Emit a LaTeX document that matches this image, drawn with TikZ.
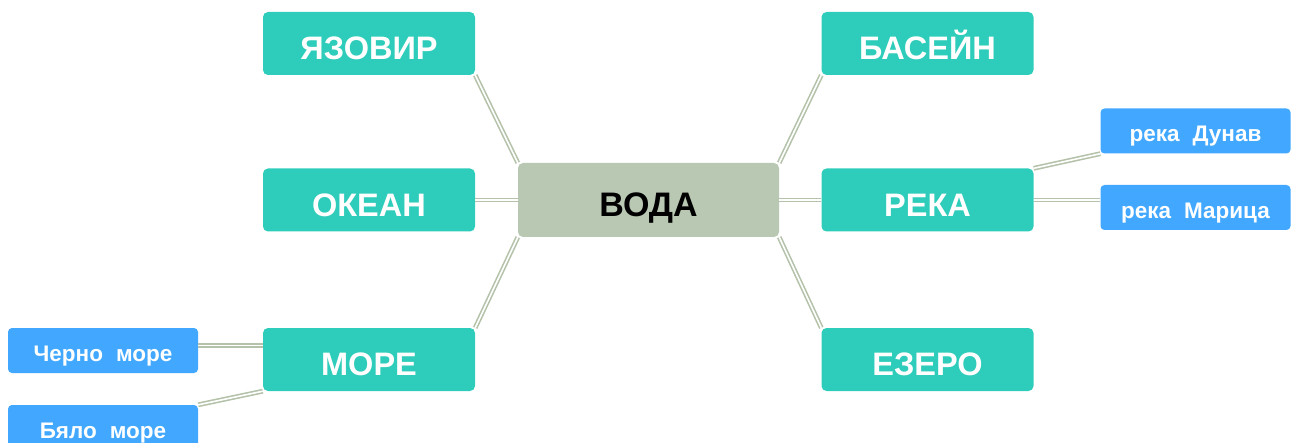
\documentclass[tikz,border=0pt]{standalone}
\usepackage{fontspec}
\setmainfont{Liberation Sans}
\usetikzlibrary{positioning}
\definecolor{tealbox}{RGB}{46,204,186}
\definecolor{bluebox}{RGB}{66,168,255}
\definecolor{sagebox}{RGB}{185,200,179}
\definecolor{linkcol}{RGB}{180,194,170}
\newcommand{\leaffont}{\bfseries\fontsize{22.5}{22.5}\selectfont\spaceskip=13pt\relax}
\tikzset{
  topic/.style={rectangle, rounded corners=5pt, fill=tealbox, text=white, font=\bfseries\fontsize{32.5}{32.5}\selectfont, minimum width=212pt, minimum height=63pt, inner sep=0pt, text height=32.5pt, text depth=0pt},
  leaf/.style={rectangle, rounded corners=4pt, fill=bluebox, text=white, font=\leaffont, minimum width=190pt, minimum height=45pt, inner sep=0pt, text height=22pt, text depth=0pt},
  hub/.style={rectangle, rounded corners=5pt, fill=sagebox, text=black, font=\bfseries\fontsize{34}{34}\selectfont, minimum width=261pt, minimum height=74pt, inner sep=0pt, text height=32.5pt, text depth=0pt},
  link/.style={draw=linkcol, double=white, double distance=1.6pt, line width=1.6pt}
}
\begin{document}
\begin{tikzpicture}[x=1pt, y=-1pt]
\useasboundingbox (0,0) rectangle (1292,443);
\coordinate (c) at (648.5,200);
\node[hub] (voda) at (c) {ВОДА};
\node[topic] (yazovir) at (369,43.5) {ЯЗОВИР};
\node[topic] (basein) at (927.5,43.5) {БАСЕЙН};
\node[topic] (okean) at (369,200) {ОКЕАН};
\node[topic] (reka) at (927.5,200) {РЕКА};
\node[topic] (more) at (369,359.5) {МОРЕ};
\node[topic] (ezero) at (927.5,359.5) {ЕЗЕРО};
\node[leaf] (dunav) at (1195.5,131) {река Дунав};
\node[leaf] (marica) at (1195.5,207.5) {река Марица};
\node[leaf] (cherno) at (103,350.5) {Черно море};
\node[leaf] (byalo) at (103,427.5) {Бяло море};
% links between the boxes
\draw[link] (yazovir.south east) -- (voda.north west);
\draw[link] (basein.south west) -- (voda.north east);
\draw[link] (okean.east) -- (voda.west);
\draw[link] (reka.west) -- (voda.east);
\draw[link] (more.north east) -- (voda.south west);
\draw[link] (ezero.north west) -- (voda.south east);
\draw[link] (reka.north east) -- (dunav.south west);
\draw[link] (reka.east) -- (reka.east -| marica.west);
\draw[link] ([yshift=5pt]cherno.east) -- ([yshift=5pt]cherno.east -| more.west);
\draw[link] (byalo.north east) -- (more.south west);
\end{tikzpicture}
\end{document}
